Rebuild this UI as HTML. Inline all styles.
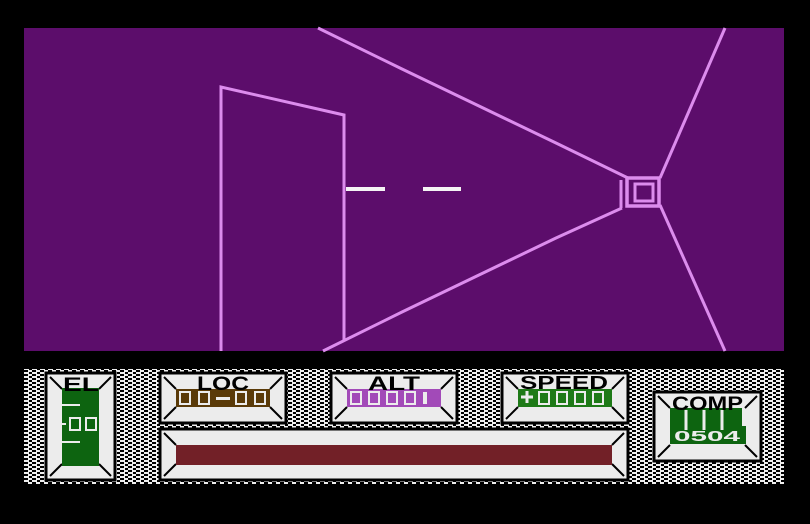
<!DOCTYPE html>
<html><head><style>html,body{margin:0;padding:0;background:#000;width:810px;height:524px;overflow:hidden}
text{font-family:"Liberation Sans",sans-serif;font-weight:bold}</style></head><body>
<svg width="810" height="524" viewBox="0 0 810 524" xmlns="http://www.w3.org/2000/svg">
<defs>
<pattern id="ck" width="8" height="4" patternUnits="userSpaceOnUse">
<rect width="8" height="4" fill="#000"/><rect x="0" y="0" width="5" height="2" fill="#eee"/><rect x="4" y="2" width="5" height="2" fill="#eee"/>
</pattern>
</defs>
<rect width="810" height="524" fill="#000"/>
<rect x="24" y="28" width="760" height="323" fill="#5c0d6b"/>
<g stroke="#dc8ced" fill="none" stroke-width="3">
<polyline points="221,351 221,87 344,115 344,340"/>
<polyline points="318,28 402,69 556,143 628,178"/>
<polyline points="323,351 402,312 556,238 622,208"/>
<polyline points="725,28 660,178"/>
<polyline points="660,205 725,351"/>
<line x1="621" y1="180" x2="621" y2="208"/>
<rect x="627" y="178" width="32" height="28" stroke-width="3.5"/>
<rect x="635" y="184" width="18" height="17" stroke-width="3"/>
</g>
<rect x="346" y="187" width="39" height="4" fill="#f4f4f4"/>
<rect x="423" y="187" width="38" height="4" fill="#f4f4f4"/>
<rect x="24" y="369" width="760" height="115" fill="url(#ck)"/>
<g fill="#ececec" stroke="#000" stroke-width="3">
<rect x="46" y="373" width="69" height="107"/>
<rect x="160" y="373" width="126" height="50"/>
<rect x="331" y="373" width="126" height="50"/>
<rect x="502" y="373" width="126" height="50"/>
<rect x="654" y="392" width="107" height="69"/>
<rect x="160" y="429" width="468" height="51"/>
</g>
<g stroke="#000" stroke-width="2">
<path d="M50,377l12,12M111,377l-12,12M50,476l12,-12M111,476l-12,-12"/>
<path d="M164,377l12,12M282,377l-12,12M164,419l12,-12M282,419l-12,-12"/>
<path d="M335,377l12,12M453,377l-12,12M335,419l12,-12M453,419l-12,-12"/>
<path d="M506,377l12,12M624,377l-12,12M506,419l12,-12M624,419l-12,-12"/>
<path d="M658,396l12,12M757,396l-12,12M658,457l12,-12M757,457l-12,-12"/>
<path d="M164,433l12,12M624,433l-12,12M164,476l12,-12M624,476l-12,-12"/>
</g>
<rect x="176" y="445" width="436" height="20" fill="#722027"/>
<rect x="62" y="388" width="37" height="78" fill="#0d6410"/>
<rect x="176" y="389" width="94" height="18" fill="#5a3a08"/>
<rect x="347" y="389" width="94" height="18" fill="#a24ab8"/>
<rect x="518" y="389" width="94" height="18" fill="#1e7a17"/>
<rect x="670" y="408" width="72" height="18" fill="#0d6410"/>
<rect x="670" y="426" width="76" height="18" fill="#0d6410"/>
<g fill="none" stroke="#ececec" stroke-width="2">
<rect x="180" y="392" width="10" height="12"/><rect x="199" y="392" width="10" height="12"/>
<rect x="236" y="392" width="10" height="12"/><rect x="255" y="392" width="10" height="12"/>
<rect x="351" y="392" width="10" height="12"/><rect x="369" y="392" width="10" height="12"/><rect x="387" y="392" width="10" height="12"/><rect x="405" y="392" width="10" height="12"/>
<rect x="539" y="392" width="10" height="12"/><rect x="557" y="392" width="10" height="12"/><rect x="575" y="392" width="10" height="12"/><rect x="593" y="392" width="10" height="12"/>
<rect x="70" y="418" width="10" height="12"/><rect x="86" y="418" width="10" height="12"/>
</g>
<rect x="216" y="397" width="14" height="3" fill="#ececec"/>
<rect x="423" y="392" width="4" height="12" fill="#ececec"/>
<path d="M521,397h12M527,391v12" stroke="#ececec" stroke-width="3"/>
<path d="M62,405h18M62,442h18M62,424h4" stroke="#ececec" stroke-width="2"/>
<path d="M686,410v20M704,410v20M722,410v20" stroke="#ececec" stroke-width="3"/>
<text x="674" y="441" font-size="15" fill="#ececec" textLength="66" lengthAdjust="spacingAndGlyphs">0504</text>
<text x="63" y="391" font-size="19" fill="#000" textLength="36" lengthAdjust="spacingAndGlyphs">EL</text>
<text x="197" y="390" font-size="19" fill="#000" textLength="52" lengthAdjust="spacingAndGlyphs">LOC</text>
<text x="368" y="390" font-size="19" fill="#000" textLength="52" lengthAdjust="spacingAndGlyphs">ALT</text>
<text x="520" y="389" font-size="18" fill="#000" textLength="88" lengthAdjust="spacingAndGlyphs">SPEED</text>
<text x="672" y="410" font-size="19" fill="#000" textLength="71" lengthAdjust="spacingAndGlyphs">COMP</text>
</svg>
</body></html>
